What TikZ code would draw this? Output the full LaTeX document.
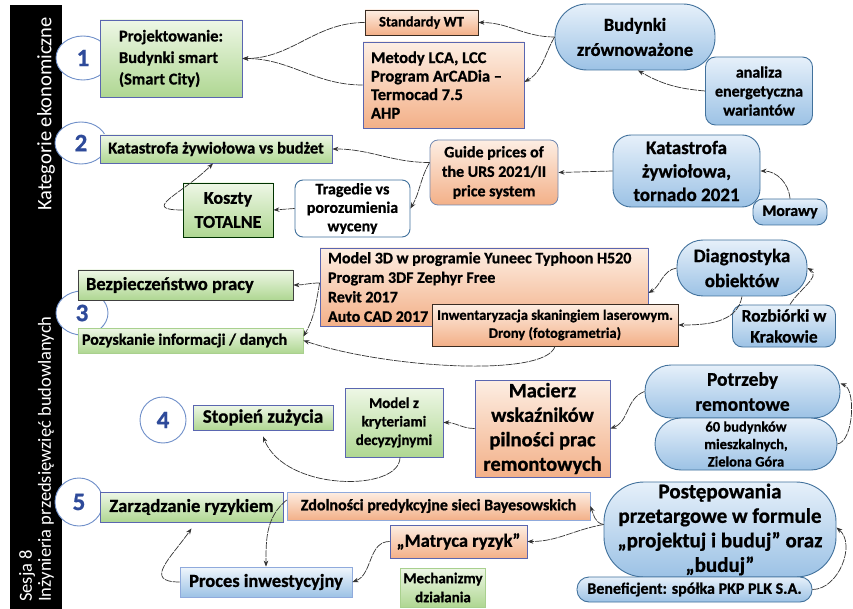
\documentclass[tikz,border=0pt]{standalone}
\usepackage{fontspec}
\setmainfont{Carlito}[BoldFeatures={FakeBold=0.8}]
\usetikzlibrary{arrows.meta,shapes.geometric,calc}
\newcommand{\myfs}[2]{\fontsize{#1}{#2}\selectfont}
\definecolor{greenT}{HTML}{EEF7E6}
\definecolor{greenB}{HTML}{AFD792}
\definecolor{orangeT}{HTML}{FDEEE3}
\definecolor{orangeB}{HTML}{F3B088}
\definecolor{blueT}{HTML}{E6F0FA}
\definecolor{blueB}{HTML}{9CC2E5}
\definecolor{bordblue}{HTML}{5A66B0}
\definecolor{darkblue}{HTML}{41719C}
\definecolor{circblue}{HTML}{6F8FC9}
\definecolor{numblue}{HTML}{2E4A9A}
\definecolor{darkbord}{HTML}{3A2C22}
\definecolor{lightgbord}{HTML}{A9D08E}
\definecolor{lightbbord}{HTML}{8FAADC}
\begin{document}
\begin{tikzpicture}[x=1pt,y=-1pt,
  base/.style={text=black, inner xsep=3pt, inner ysep=1pt, align=center},
  gbox/.style={base, draw=bordblue, line width=0.8pt, top color=greenT, bottom color=greenB},
  obox/.style={base, draw=bordblue, line width=0.8pt, top color=orangeT, bottom color=orangeB},
  bbox/.style={base, draw=darkblue, line width=0.9pt, top color=blueT, bottom color=blueB, rounded corners=#1},
  bbox/.default=10pt,
  num/.style={ellipse, draw=circblue, line width=0.9pt, fill=white, text=numblue, font=\bfseries\myfs{25}{25}, inner sep=0pt},
  bartext/.style={text=white, inner sep=0pt},
  conn/.style={draw=black!80, line width=0.7pt, dash pattern=on 7pt off 1pt, -{Stealth[length=6pt,width=4.5pt]}}
]
\useasboundingbox (0,0) rectangle (853,609);
\fill[white] (0,0) rectangle (853,609);
\fill[black] (10,5) rectangle (62,609);
\node[bartext, rotate=90, font=\myfs{20.5}{22}] (bt1) at (46,114) {Kategorie ekonomiczne};
\node[bartext, rotate=90, anchor=west, font=\myfs{18.5}{20}] (bt2) at (46,602) {Inżynieria przedsięwzięć budowlanych};
\node[bartext, rotate=90, anchor=west, font=\myfs{18.5}{20}] (bt3) at (27,602) {Sesja 8};

% numbered circles
\node[num, minimum width=54pt, minimum height=44pt] (c1) at (83,58) {1};
\node[num, minimum width=52pt, minimum height=42pt] (c2) at (81,143) {2};
\node[num, minimum width=52pt, minimum height=44pt] (c3) at (82,313) {3};
\node[num, minimum width=46pt, minimum height=46pt] (c4) at (163,420) {4};
\node[num, minimum width=48pt, minimum height=48pt] (c5) at (79,502) {5};

% row 1
\node[gbox, align=flush left, minimum width=142pt, minimum height=77pt, font=\bfseries\myfs{16.5}{21.5}] (g1) at (171,58.5) {Projektowanie:\\Budynki smart\\(Smart City)};
\node[obox, draw=darkbord, minimum width=113pt, minimum height=25pt, font=\bfseries\myfs{14.5}{16}] (std) at (421.5,22.5) {Standardy WT};
\node[obox, align=flush left, text width=145pt, inner xsep=8pt, minimum height=86pt, font=\bfseries\myfs{16.5}{18.5}] (met) at (443.5,85) {Metody LCA, LCC\\Program ArCADia –\\Termocad 7.5\\AHP};
\node[bbox=32pt, minimum width=160pt, minimum height=66pt, font=\bfseries\myfs{18.5}{25}] (bud) at (635,37) {Budynki\\zrównoważone};
\node[bbox=10pt, minimum width=107pt, minimum height=68pt, inner xsep=1pt, font=\bfseries\myfs{16}{19}] (ana) at (759,91) {analiza\\energetyczna\\wariantów};

% row 2
\node[gbox, minimum width=232pt, minimum height=28pt, font=\bfseries\myfs{16.5}{18}] (g2) at (216,149) {Katastrofa żywiołowa vs budżet};
\node[obox, draw=lightbbord!80!black, rounded corners=8pt, minimum width=128pt, minimum height=65pt, font=\bfseries\myfs{16}{19.5}] (gui) at (494,172.5) {Guide prices of\\the URS 2021/II\\price system};
\node[bbox=18pt, minimum width=147pt, minimum height=72pt, font=\bfseries\myfs{19}{23.5}] (kat) at (686.5,171) {Katastrofa\\żywiołowa,\\tornado 2021};
\node[bbox=10pt, minimum width=74pt, minimum height=26pt, font=\bfseries\myfs{16}{18}] (mor) at (790,212) {Morawy};
\node[base, draw=darkblue, line width=0.9pt, fill=white, rounded corners=8pt, minimum width=115pt, minimum height=57pt, font=\bfseries\myfs{16}{18.5}] (tra) at (352.5,208.5) {Tragedie vs\\porozumienia\\wyceny};
\node[gbox, draw=black!80!green, minimum width=90pt, minimum height=54pt, font=\bfseries\myfs{18}{24}] (kos) at (228,210) {Koszty\\TOTALNE};

% row 3
\node[obox, align=flush left, text width=312pt, inner xsep=8pt, minimum height=78pt, font=\bfseries\myfs{16}{19.5}] (m3d) at (484,287) {Model 3D w programie Yuneec Typhoon H520\\Program 3DF Zephyr Free\\Revit 2017\\Auto CAD 2017};
\node[obox, draw=darkbord, minimum width=246pt, minimum height=42pt, font=\bfseries\myfs{14.5}{18}] (inw) at (555,325) {Inwentaryzacja skaningiem laserowym.\\Drony (fotogrametria)};
\node[bbox=26pt, minimum width=130pt, minimum height=56pt, font=\bfseries\myfs{19}{25}] (dia) at (742,268) {Diagnostyka\\obiektów};
\node[bbox=10pt, minimum width=103pt, minimum height=42pt, inner ysep=0pt, font=\bfseries\myfs{17.5}{21}] (roz) at (784,326) {Rozbiórki w\\Krakowie};
\node[gbox, draw=black!75, align=flush left, text width=199pt, inner xsep=8pt, minimum height=30pt, font=\bfseries\myfs{18.5}{20}] (bez) at (185.5,285) {Bezpieczeństwo pracy};
\node[gbox, draw=lightgbord, align=flush left, text width=217pt, inner xsep=4pt, minimum height=25pt, font=\bfseries\myfs{16}{17}] (poz) at (190.5,340.5) {Pozyskanie informacji / danych};

% row 4
\node[gbox, minimum width=140pt, minimum height=25pt, font=\bfseries\myfs{19}{20}] (sto) at (263,417.5) {Stopień zużycia};
\node[gbox, minimum width=98pt, minimum height=69pt, font=\bfseries\myfs{15}{18.5}] (mz) at (394,422.5) {Model z\\kryteriami\\decyzyjnymi};
\node[obox, minimum width=135pt, minimum height=97pt, font=\bfseries\myfs{20.5}{24.5}] (mac) at (542.5,428.5) {Macierz\\wskaźników\\pilności prac\\remontowych};
\node[bbox=26pt, minimum width=195pt, minimum height=53pt, font=\bfseries\myfs{19.5}{25}] (pot) at (742.5,391.5) {Potrzeby\\remontowe};
\node[bbox=26pt, minimum width=182pt, minimum height=52pt, inner ysep=0pt, font=\bfseries\myfs{14.5}{17.5}] (bud60) at (746,444) {60 budynków\\mieszkalnych,\\Zielona Góra};

% row 5
\node[gbox, minimum width=183pt, minimum height=30pt, font=\bfseries\myfs{18.5}{20}] (zar) at (191.5,507) {Zarządzanie ryzykiem};
\node[obox, draw=lightbbord, minimum width=303pt, minimum height=28pt, font=\bfseries\myfs{16}{17}] (zdo) at (438.5,506) {Zdolności predykcyjne sieci Bayesowskich};
\node[obox, minimum width=137pt, minimum height=33pt, font=\bfseries\myfs{18.5}{20}] (mat) at (458.5,541.5) {„Matryca ryzyk”};
\node[gbox, draw=lightgbord, minimum width=70pt, minimum height=39pt, font=\bfseries\myfs{15}{19}] (mec) at (443,587.5) {Mechanizmy\\działania};
\node[base, draw=lightbbord, line width=0.8pt, top color=blueT!60!white, bottom color=blueB, minimum width=172pt, minimum height=30pt, font=\bfseries\myfs{18.5}{20}] (pro) at (266,582) {Proces inwestycyjny};
\node[bbox=40pt, minimum width=232pt, minimum height=95pt, inner ysep=0pt, font=\bfseries\myfs{21}{24.5}] (pos) at (720,529.5) {Postępowania\\przetargowe w formule\\„projektuj i buduj” oraz\\„buduj”};
\node[bbox=12pt, minimum width=235pt, minimum height=25pt, font=\bfseries\myfs{16}{17}] (ben) at (694.5,589.5) {Beneficjent: spółka PKP PLK S.A.};

% connectors
\draw[conn] (std.west) to[out=180,in=0] (g1.east);
\draw[conn] (met.west) to[out=180,in=0] (g1.east);
\draw[conn] (bud.west) to[out=180,in=0] (std.east);
\draw[conn] (bud.west) to[out=240,in=30] ([yshift=3pt]met.east);
\draw[conn] (ana.west) to[out=175,in=-30] ([xshift=3pt]bud.south);
\draw[conn] ([yshift=10pt]gui.west) to[out=180,in=0] (g2.east);
\draw[conn] ([yshift=10pt]gui.west) to[out=240,in=60] (tra.east);
\draw[conn] (kat.west) -- (gui.east);
\draw[conn] (mor.north) to[out=95,in=0] (kat.east);
\draw[conn] (tra.west) -- (kos.east);
\draw[conn] (kos.west) to[out=180,in=225,looseness=2] ([xshift=-3pt]g2.south);
\draw[conn] ([yshift=4pt]m3d.west) to[out=180,in=0] (bez.east);
\draw[conn] ([yshift=4pt]m3d.west) to[out=260,in=60] ([yshift=4pt]poz.east);
\draw[conn] (inw.south) .. controls (545,378) and (385,368) .. (poz.east);
\draw[conn] (dia.west) to[out=190,in=30] ([yshift=-6pt]m3d.east);
\draw[conn] (dia.south) to[out=-100,in=0] (inw.east);
\draw[conn] ([xshift=6pt]roz.north) to[out=60,in=-30] (dia.east);
\draw[conn] (pot.west) to[out=200,in=20] (mac.east);
\draw[conn] (mac.west) to[out=180,in=0] (mz.east);
\draw[conn] ([xshift=6pt]mz.south) .. controls (400,492) and (285,492) .. ([yshift=-6pt]sto.south);
\draw[conn] (bud60.east) to[out=10,in=-20,looseness=0.7] ([yshift=8pt]pot.east);
\draw[conn] ([yshift=5pt]pos.west) to[out=170,in=-70] (zdo.east);
\draw[conn] ([yshift=5pt]pos.west) to[out=190,in=0] (mat.east);
\draw[conn] ([yshift=6pt]zdo.west) to[out=220,in=90] (pro.north);
\draw[conn] (mat.west) to[out=180,in=20] (pro.east);
\draw[conn] (pro.west) to[out=180,in=235,looseness=1.7] ($(zar.south)+(0,6)$);
\draw[conn] (ben.east) to[out=0,in=-40] ([yshift=2pt]pos.east);
\end{tikzpicture}
\end{document}
